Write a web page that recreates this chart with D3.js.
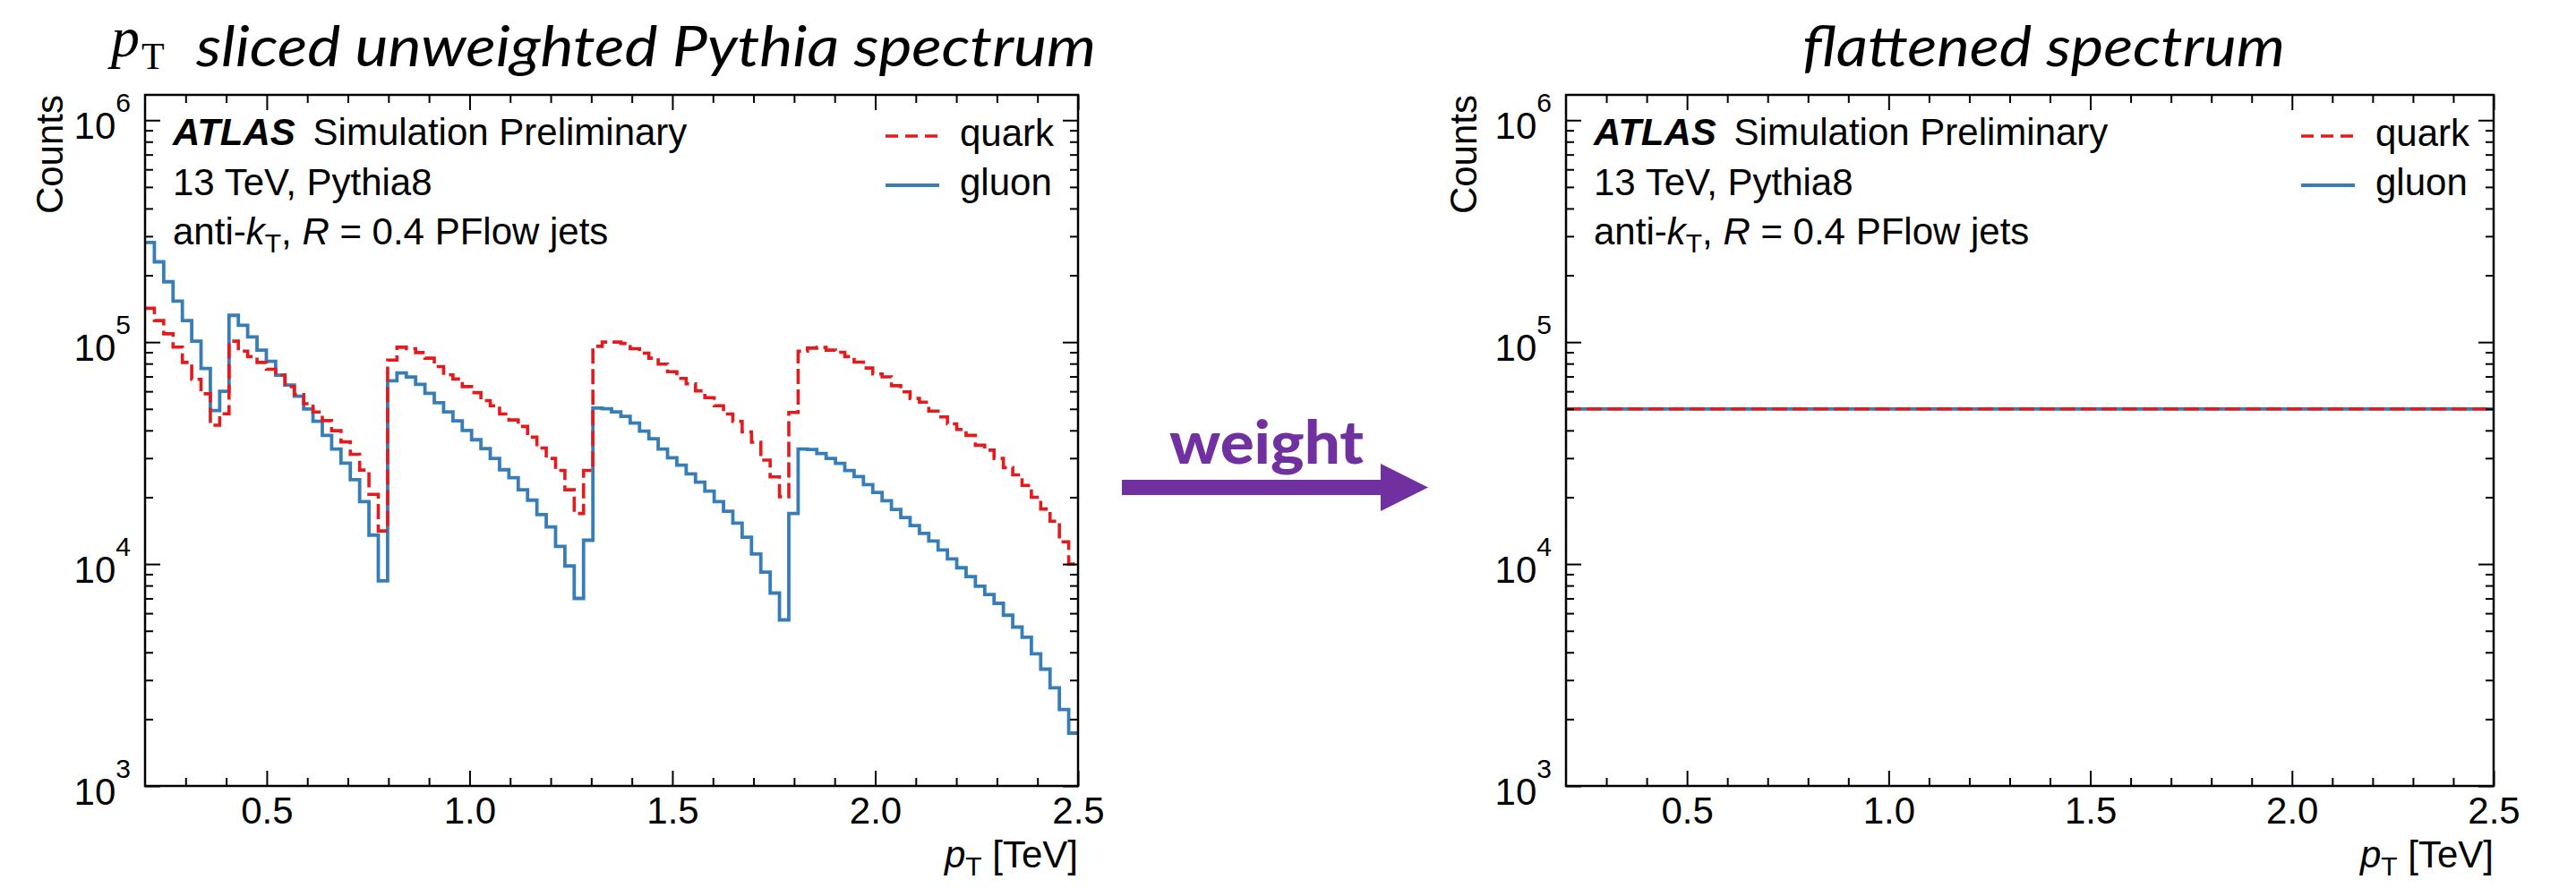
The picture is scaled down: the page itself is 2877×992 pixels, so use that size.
<!DOCTYPE html>
<html>
<head>
<meta charset="utf-8">
<script src="https://cdn.jsdelivr.net/npm/d3@7"></script>
<style>
  body { margin: 0; background: #fff; }
  text { font-family: "Liberation Sans", Arial, sans-serif; fill: #000; }
</style>
</head>
<body>
<div id="chart"></div>
<script>
//********************************************************************//
//                    DATA
//*******************************************************************//

  // histogram binning (pT in TeV)
  var binLow = 0.2;
  var binHigh = 2.5;
  var nBins = 100;

  // unweighted counts per bin
  var gluonCounts = [
    2.81e5, 2.30e5, 1.87e5, 1.53e5, 1.25e5, 1.01e5, 7.60e4, 4.92e4, 6.00e4, 1.32e5,
    1.19e5, 1.056e5, 9.20e4, 8.20e4, 7.10e4, 6.40e4, 5.70e4, 5.00e4, 4.40e4, 3.80e4,
    3.30e4, 2.85e4, 2.40e4, 1.91e4, 1.35e4, 8.40e3, 6.70e4, 7.26e4, 6.97e4, 6.45e4,
    5.88e4, 5.33e4, 4.85e4, 4.42e4, 4.00e4, 3.63e4, 3.31e4, 2.99e4, 2.66e4, 2.45e4,
    2.16e4, 1.94e4, 1.67e4, 1.47e4, 1.20e4, 9.80e3, 7.00e3, 1.28e4, 5.04e4, 5.01e4,
    4.85e4, 4.63e4, 4.32e4, 3.97e4, 3.67e4, 3.30e4, 3.01e4, 2.79e4, 2.55e4, 2.34e4,
    2.13e4, 1.91e4, 1.73e4, 1.53e4, 1.32e4, 1.11e4, 9.20e3, 7.40e3, 5.60e3, 1.69e4,
    3.30e4, 3.28e4, 3.15e4, 2.99e4, 2.84e4, 2.64e4, 2.48e4, 2.28e4, 2.10e4, 1.93e4,
    1.76e4, 1.62e4, 1.49e4, 1.375e4, 1.27e4, 1.157e4, 1.055e4, 9.62e3, 8.77e3, 7.95e3,
    7.29e3, 6.65e3, 5.88e3, 5.20e3, 4.68e3, 3.94e3, 3.36e3, 2.77e3, 2.21e3, 1.73e3];

  var quarkCounts = [
    1.42e5, 1.25e5, 1.09e5, 9.50e4, 8.10e4, 6.80e4, 5.85e4, 4.22e4, 4.75e4, 1.01e5,
    9.10e4, 8.60e4, 8.10e4, 7.55e4, 7.10e4, 6.30e4, 5.80e4, 5.28e4, 4.84e4, 4.43e4,
    3.99e4, 3.55e4, 3.12e4, 2.65e4, 2.06e4, 1.41e4, 8.30e4, 9.48e4, 9.34e4, 8.97e4,
    8.46e4, 7.76e4, 7.12e4, 6.82e4, 6.30e4, 5.92e4, 5.45e4, 5.17e4, 4.74e4, 4.46e4,
    4.17e4, 3.73e4, 3.33e4, 2.99e4, 2.64e4, 2.16e4, 1.69e4, 2.64e4, 9.57e4, 1.00e5,
    1.00e5, 9.87e4, 9.34e4, 8.92e4, 8.46e4, 7.96e4, 7.35e4, 6.86e4, 6.49e4, 6.03e4,
    5.62e4, 5.17e4, 4.74e4, 4.39e4, 3.94e4, 3.54e4, 2.94e4, 2.47e4, 2.01e4, 4.82e4,
    9.11e4, 9.40e4, 9.46e4, 9.20e4, 9.00e4, 8.60e4, 8.13e4, 7.64e4, 7.19e4, 6.97e4,
    6.36e4, 5.97e4, 5.57e4, 5.36e4, 4.89e4, 4.60e4, 4.28e4, 4.04e4, 3.80e4, 3.43e4,
    3.26e4, 2.99e4, 2.72e4, 2.52e4, 2.26e4, 2.00e4, 1.77e4, 1.56e4, 1.26e4, 1.00e4];

  // flattened spectrum level (right panel)
  var flatQuark = 5.0e4;
  var flatGluon = 5.0e4;

  var xTickValues = [0.5, 1.0, 1.5, 2.0, 2.5];
  var xTickLabels = ["0.5", "1.0", "1.5", "2.0", "2.5"];
  var yDecades = [1e3, 1e4, 1e5, 1e6];
  var yExponents = ["3", "4", "5", "6"];
  var legendLabels = ["quark", "gluon"];

//********************************************************************//
//                    LAYOUT
//*******************************************************************//

  var W = 2877, H = 992;
  var quarkColor = "#e41a1c";
  var gluonColor = "#377eb8";
  var purple = "#7030a0";

  var svg = d3.select("#chart")
    .append("svg")
      .attr("width", W)
      .attr("height", H);

  var edges = d3.range(nBins + 1).map(function(i) { return binLow + i * (binHigh - binLow) / nBins; });

  var panels = [
    {left: 162,  right: 1204, top: 106, bottom: 878, countsX: 70},
    {left: 1749, right: 2785, top: 106, bottom: 878, countsX: 1649}
  ];

function makeScales(p) {
  var x = d3.scaleLinear().domain([binLow, binHigh]).range([p.left, p.right]);
  var y = d3.scaleLog().domain([1e3, 1.3e6]).range([p.bottom, p.top]);
  return {x: x, y: y};
}

function drawFrame(p, s, id) {
  var g = svg.append("g");

  // minor positions
  var xMinor = d3.range(3, 25).map(function(d) { return d / 10; })
                 .filter(function(d) { return Math.abs(d * 2 - Math.round(d * 2)) > 1e-6; });
  var yMinor = [];
  yDecades.slice(0, 3).forEach(function(dec) {
    for (var m = 2; m <= 9; m++) yMinor.push(m * dec);
  });

  // bottom / top ticks (inward)
  g.append("g").attr("transform", "translate(0," + p.bottom + ")")
    .call(d3.axisBottom(s.x).tickValues(xTickValues)
      .tickFormat(function(d, i) { return xTickLabels[i]; })
      .tickSizeInner(-17).tickSizeOuter(0).tickPadding(12))
    .call(styleAxis);
  g.append("g").attr("transform", "translate(0," + p.bottom + ")")
    .call(d3.axisBottom(s.x).tickValues(xMinor).tickFormat("").tickSizeInner(-9).tickSizeOuter(0))
    .call(styleAxis);
  g.append("g").attr("transform", "translate(0," + p.top + ")")
    .call(d3.axisTop(s.x).tickValues(xTickValues).tickFormat("").tickSizeInner(-17).tickSizeOuter(0))
    .call(styleAxis);
  g.append("g").attr("transform", "translate(0," + p.top + ")")
    .call(d3.axisTop(s.x).tickValues(xMinor).tickFormat("").tickSizeInner(-9).tickSizeOuter(0))
    .call(styleAxis);

  // left / right ticks (inward)
  [[d3.axisLeft, p.left], [d3.axisRight, p.right]].forEach(function(a) {
    g.append("g").attr("transform", "translate(" + a[1] + ",0)")
      .call(a[0](s.y).tickValues(yDecades).tickFormat("").tickSizeInner(-17).tickSizeOuter(0))
      .call(styleAxis);
    g.append("g").attr("transform", "translate(" + a[1] + ",0)")
      .call(a[0](s.y).tickValues(yMinor).tickFormat("").tickSizeInner(-9).tickSizeOuter(0))
      .call(styleAxis);
  });

  // y labels 10^n
  var yl = g.selectAll("text.ylab")
    .data(yDecades)
    .enter()
    .append("text")
      .attr("class", "ylab")
      .attr("x", p.left - 16)
      .attr("y", function(d) { return s.y(d) + 21; })
      .attr("text-anchor", "end")
      .style("font-size", "42px");
  yl.append("tspan").text("10");
  yl.append("tspan")
    .attr("dy", -30)
    .style("font-size", "30px")
    .text(function(d, i) { return yExponents[i]; });

  // frame
  g.append("rect")
    .attr("x", p.left).attr("y", p.top)
    .attr("width", p.right - p.left).attr("height", p.bottom - p.top)
    .attr("fill", "none").attr("stroke", "#000").attr("stroke-width", 2.5);

  // Counts
  g.append("text")
    .attr("transform", "translate(" + p.countsX + "," + p.top + ") rotate(-90)")
    .attr("text-anchor", "end")
    .style("font-size", "42px")
    .text("Counts");

  // x label
  var xl = g.append("text")
    .attr("x", p.right)
    .attr("y", 969)
    .attr("text-anchor", "end")
    .style("font-size", "42px");
  xl.append("tspan").style("font-style", "italic").text("p");
  xl.append("tspan").attr("dy", 9).style("font-size", "30px").text("T");
  xl.append("tspan").attr("dy", -9).text(" [TeV]");

  // ATLAS label block
  var tx = p.left + 31;
  var t1 = g.append("text").attr("x", tx).attr("y", 162).style("font-size", "42px");
  t1.append("tspan").style("font-weight", "bold").style("font-style", "italic").text("ATLAS");
  t1.append("tspan").attr("dx", 8).text(" Simulation Preliminary");
  g.append("text").attr("x", tx).attr("y", 218).style("font-size", "42px").text("13 TeV, Pythia8");
  var t3 = g.append("text").attr("x", tx).attr("y", 273).style("font-size", "42px");
  t3.append("tspan").text("anti-");
  t3.append("tspan").style("font-style", "italic").text("k");
  t3.append("tspan").attr("dy", 9).style("font-size", "30px").text("T");
  t3.append("tspan").attr("dy", -9).text(", ");
  t3.append("tspan").style("font-style", "italic").text("R");
  t3.append("tspan").text(" = 0.4 PFlow jets");

  // legend
  var lg = g.append("g");
  var styles = [{c: quarkColor, dash: "14,8", w: 3.6}, {c: gluonColor, dash: null, w: 3.8}];
  legendLabels.forEach(function(lab, i) {
    var yy = 152 + i * 55;
    lg.append("line")
      .attr("x1", p.right - 215).attr("x2", p.right - 155)
      .attr("y1", yy).attr("y2", yy)
      .attr("stroke", styles[i].c)
      .attr("stroke-width", styles[i].w)
      .attr("stroke-dasharray", styles[i].dash);
    lg.append("text")
      .attr("x", p.right - 132)
      .attr("y", yy + 11)
      .style("font-size", "42px")
      .text(lab);
  });

  // clip
  svg.append("clipPath").attr("id", id)
    .append("rect")
      .attr("x", p.left).attr("y", p.top)
      .attr("width", p.right - p.left).attr("height", p.bottom - p.top);

  return g;
}

function styleAxis(sel) {
  sel.select(".domain").remove();
  sel.selectAll(".tick line").attr("stroke", "#000").attr("stroke-width", 2);
  sel.selectAll(".tick text")
    .style("font-family", "Liberation Sans, Arial, sans-serif")
    .style("font-size", "42px")
    .attr("fill", "#000");
}

//********************************************************************//
//                    LEFT PANEL
//*******************************************************************//

var sL = makeScales(panels[0]);

var stepLine = d3.line()
  .x(function(d) { return sL.x(d.e); })
  .y(function(d) { return sL.y(d.v); })
  .curve(d3.curveStepAfter);

function stepData(counts) {
  var pts = counts.map(function(v, i) { return {e: edges[i], v: v}; });
  pts.push({e: edges[nBins], v: counts[nBins - 1]});
  return pts;
}

var plotL = svg.append("g").attr("clip-path", "url(#clipL)");

plotL.append("path")
  .datum(stepData(gluonCounts))
  .attr("d", stepLine)
  .attr("fill", "none")
  .attr("stroke", gluonColor)
  .attr("stroke-width", 3.8);

plotL.append("path")
  .datum(stepData(quarkCounts))
  .attr("d", stepLine)
  .attr("fill", "none")
  .attr("stroke", quarkColor)
  .attr("stroke-width", 3.6)
  .attr("stroke-dasharray", "17,6");

drawFrame(panels[0], sL, "clipL");

//********************************************************************//
//                    RIGHT PANEL
//*******************************************************************//

var sR = makeScales(panels[1]);
var plotR = svg.append("g").attr("clip-path", "url(#clipR)");

plotR.append("line")
  .attr("x1", sR.x(binLow)).attr("x2", sR.x(binHigh))
  .attr("y1", sR.y(flatGluon)).attr("y2", sR.y(flatGluon))
  .attr("stroke", gluonColor)
  .attr("stroke-width", 3.8);

plotR.append("line")
  .attr("x1", sR.x(binLow)).attr("x2", sR.x(binHigh))
  .attr("y1", sR.y(flatQuark)).attr("y2", sR.y(flatQuark))
  .attr("stroke", quarkColor)
  .attr("stroke-width", 3.6)
  .attr("stroke-dasharray", "17,6");

drawFrame(panels[1], sR, "clipR");

//********************************************************************//
//                    TITLES + ARROW
//*******************************************************************//

// math pT
var pT = svg.append("text").attr("x", 124).attr("y", 63)
  .style("font-family", "Liberation Serif, serif");
pT.append("tspan")
  .style("font-style", "italic")
  .style("font-size", "64px")
  .text("p");
pT.append("tspan")
  .attr("y", 77)
  .attr("dx", 2)
  .style("font-size", "42px")
  .text("T");

svg.append("text")
  .attr("x", 219)
  .attr("y", 74)
  .attr("textLength", 1005)
  .attr("lengthAdjust", "spacingAndGlyphs")
  .style("font-family", "Lato, sans-serif")
  .style("font-style", "italic")
  .style("font-weight", "400")
  .style("font-size", "63px")
  .text("sliced unweighted Pythia spectrum");

svg.append("text")
  .attr("x", 2013)
  .attr("y", 74)
  .attr("textLength", 539)
  .attr("lengthAdjust", "spacingAndGlyphs")
  .style("font-family", "Lato, sans-serif")
  .style("font-style", "italic")
  .style("font-weight", "400")
  .style("font-size", "63px")
  .text("flattened spectrum");

// arrow
svg.append("path")
  .attr("d", "M1253,536 L1542,536 L1542,518 L1595,544.6 L1542,571 L1542,553 L1253,553 Z")
  .attr("fill", purple);

svg.append("text")
  .attr("x", 1306)
  .attr("y", 518)
  .attr("textLength", 217)
  .attr("lengthAdjust", "spacingAndGlyphs")
  .style("font-family", "Lato, sans-serif")
  .style("font-weight", "900")
  .style("font-size", "67px")
  .style("fill", purple)
  .text("weight");
</script>
</body>
</html>
